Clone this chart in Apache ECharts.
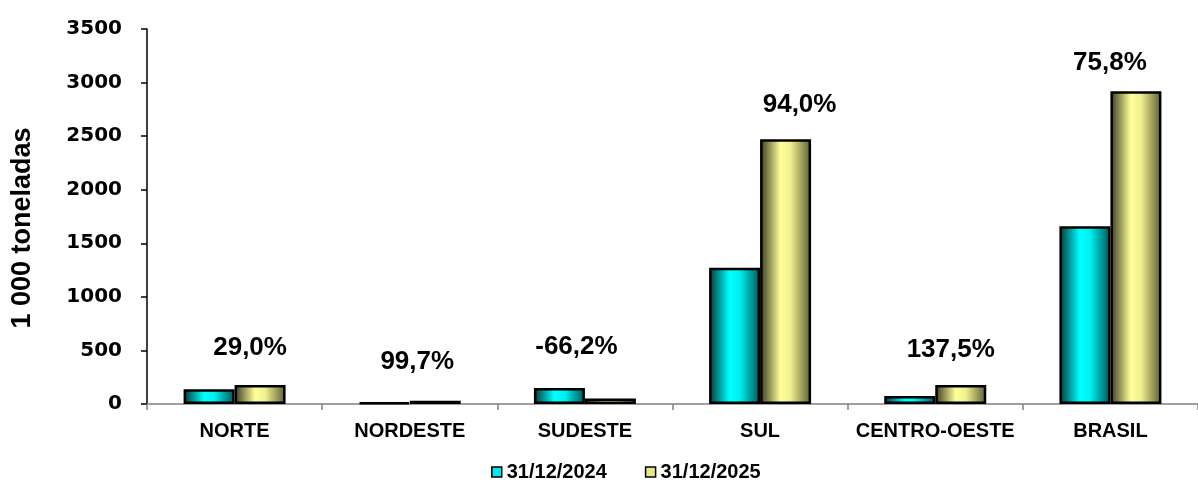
<!DOCTYPE html>
<html>
<head>
<meta charset="utf-8">
<script src="https://cdn.jsdelivr.net/npm/echarts@6/dist/echarts.min.js"></script>
<style>
html,body{margin:0;padding:0;background:#fff;}
#chart{width:1198px;height:482px;}
</style>
</head>
<body>
<div id="chart"></div>
<script>
// ---- data ----
const categories = ['NORTE', 'NORDESTE', 'SUDESTE', 'SUL', 'CENTRO-OESTE', 'BRASIL'];
const series2024 = [137, 15, 150, 1272, 75, 1658];
const series2025 = [177, 30, 51, 2470, 178, 2918];
const pctLabels = ['29,0%', '99,7%', '-66,2%', '94,0%', '137,5%', '75,8%'];
const seriesNames = ['31/12/2024', '31/12/2025'];
const yTicks = [0, 500, 1000, 1500, 2000, 2500, 3000, 3500];

// ---- layout (label offsets relative to the 2025 bar top) ----
const labelOffsets = [[-10, -19], [-18, -21], [-34, -34], [14, -17], [-10, -17], [-26, -11]];

const chart = echarts.init(document.getElementById('chart'));

const cyanGrad = new echarts.graphic.LinearGradient(0, 0, 1, 0, [
  {offset: 0, color: '#003535'},
  {offset: 0.4, color: '#00ffff'},
  {offset: 0.6, color: '#00f0f0'},
  {offset: 1, color: '#005555'}
]);
const yellowGrad = new echarts.graphic.LinearGradient(0, 0, 1, 0, [
  {offset: 0, color: '#38381f'},
  {offset: 0.4, color: '#ffff99'},
  {offset: 0.6, color: '#f0f090'},
  {offset: 1, color: '#5a5a36'}
]);

const boldFont = {fontFamily: 'Liberation Sans, Arial, sans-serif', fontWeight: 'bold', color: '#000'};

chart.setOption({
  animation: false,
  grid: {left: 147, right: 0, top: 29, bottom: 78, containLabel: false},
  legend: {
    left: 486, top: 457,
    icon: 'rect', itemWidth: 10, itemHeight: 10, itemGap: 38,
    textStyle: Object.assign({fontSize: 20}, boldFont),
    data: [
      {name: seriesNames[0], itemStyle: {color: '#00e8e8', borderColor: '#000', borderWidth: 1.5}},
      {name: seriesNames[1], itemStyle: {color: '#e8e888', borderColor: '#000', borderWidth: 1.5}}
    ]
  },
  xAxis: {
    type: 'category',
    data: categories,
    axisLine: {lineStyle: {color: '#808080', width: 1.5}},
    axisTick: {show: true, length: 6, lineStyle: {color: '#808080', width: 1.5}},
    axisLabel: Object.assign({fontSize: 20, margin: 17, interval: 0}, boldFont)
  },
  yAxis: {
    type: 'value',
    min: yTicks[0], max: yTicks[yTicks.length - 1], interval: 500,
    splitLine: {show: false},
    axisLine: {show: true, lineStyle: {color: '#000', width: 1.5}},
    axisTick: {show: true, length: 6, lineStyle: {color: '#000', width: 1.5}},
    axisLabel: {fontSize: 20, margin: 25, fontFamily: 'DejaVu Sans', fontWeight: 'bold', color: '#000',
      formatter: v => String(v)}
  },
  graphic: [{
    type: 'text',
    x: 23, y: 228,
    rotation: Math.PI / 2,
    style: {text: '1 000 toneladas', fontSize: 27, textAlign: 'center', textVerticalAlign: 'middle', fill: '#000',
      fontFamily: 'Liberation Sans, Arial, sans-serif', fontWeight: 'bold'}
  }],
  series: [
    {
      name: seriesNames[0], type: 'bar', data: series2024,
      barWidth: 51, barGap: 0,
      itemStyle: {color: cyanGrad, borderColor: '#000', borderWidth: 2.5}
    },
    {
      name: seriesNames[1], type: 'bar',
      data: series2025.map((v, i) => ({
        value: v,
        label: {offset: labelOffsets[i]}
      })),
      barWidth: 51, barGap: 0,
      itemStyle: {color: yellowGrad, borderColor: '#000', borderWidth: 2.5},
      label: Object.assign({
        show: true, position: 'top', distance: 5, fontSize: 26,
        formatter: p => pctLabels[p.dataIndex]
      }, boldFont)
    }
  ]
});
</script>
</body>
</html>
